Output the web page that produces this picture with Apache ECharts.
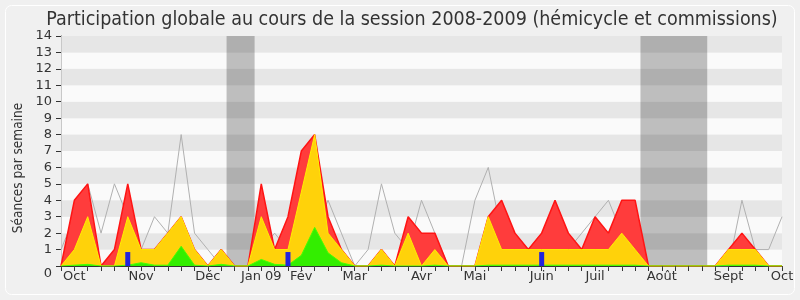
<!DOCTYPE html>
<html><head><meta charset="utf-8">
<script src="https://cdn.jsdelivr.net/npm/echarts@6/dist/echarts.min.js"></script>
<style>html,body{margin:0;padding:0;background:#f0f0f0}#c{width:800px;height:300px}</style>
</head><body><div id="c"></div>
<script>
// Weekly data, session 2008-2009 (week index 0..54)
const totalSeances = [0,4,5,0,1,5,1,1,2,3,1,0,1,0,0,5,1,3,7,8,3,1,0,0,1,0,3,2,2,0,0,0,3,4,2,1,2,4,2,1,3,2,4,4,0,0,0,0,0,0,1,2,1,0,0];
const commission   = [0,1,3,0,0,3,1,1,2,3,1,0,1,0,0,3,1,1,4.5,8,2,1,0,0,1,0,2,0,1,0,0,0,3,1,1,1,1,1,1,1,1,1,2,1,0,0,0,0,0,0,1,1,1,0,0];
const hemicycle    = [0,0.05,0.1,0,0,0.05,0.2,0.05,0.05,1.2,0.05,0,0.1,0,0,0.4,0.1,0.05,0.65,2.35,0.8,0.2,0,0,0.05,0,0,0,0.05,0,0,0,0.05,0.05,0.05,0.05,0.05,0.05,0.05,0.05,0.05,0.05,0.05,0.05,0,0,0,0,0,0,0.05,0.05,0.05,0,0];
const mediane      = [1,3,5,2,5,3,1,3,2,8,2,1,0,0,0,1,2,1,3,2,4,2,0,1,5,2,1,4,2,0,0,4,6,2,2,1,2,3,1,2,3,4,2,1,0,0,0,0,0,0,0,4,1,1,3];
const questionWeeks = [5,17,36];
const questionValues = [0.85,0.85,0.85];
const vacations = [[12.4,14.5],[43.4,48.4]];
const monthLabels = ['Oct','Nov','Déc','Jan 09','Fév','Mar','Avr','Mai','Juin','Juil','Août','Sept','Oct'];
const monthWeeks  = [1,6,11,15,18,22,27,31,36,40,45,50,54];

const toXY = arr => arr.map((v,i)=>[i,v]);
const labelMap = {};
monthWeeks.forEach((w,k)=>{labelMap[w]=monthLabels[k];});

const chart = echarts.init(document.getElementById('c'), null, {renderer:'canvas'});
const FONT = 'DejaVu Sans';
chart.setOption({
  animation:false,
  backgroundColor:'#f0f0f0',
  title:{text:'Participation globale au cours de la session 2008-2009 (hémicycle et commissions)',
    left:407, top:5, textAlign:'center',
    textStyle:{fontFamily:'DejaVu Sans Condensed', fontSize:19.5, fontWeight:'normal', color:'#333'}},
  graphic:[
    {type:'rect', shape:{x:5.5,y:5.5,width:789,height:289,r:6}, style:{fill:null, stroke:'#ffffff', lineWidth:1}, z:-10},
    {type:'text', x:18, y:168, rotation:Math.PI/2, style:{text:'Séances par semaine', fontFamily:'DejaVu Sans Condensed', fontSize:13.5, fill:'#333', textAlign:'center', textVerticalAlign:'middle'}}
  ],
  grid:{left:61, right:18, top:36, bottom:34},
  xAxis:[{
    type:'value', min:0, max:54, interval:1,
    axisLine:{show:true, onZero:false, lineStyle:{color:'#333', width:1}},
    axisTick:{show:true, length:5, lineStyle:{color:'#333'}},
    axisLabel:{show:true, margin:4, fontFamily:FONT, fontSize:13, color:'#333', showMaxLabel:true, showMinLabel:true,
      formatter:v=>labelMap[v]||''},
    splitLine:{show:false}
  },{
    type:'value', position:'top', min:0, max:54, interval:1,
    axisLine:{show:false}, axisTick:{show:true, inside:true, length:2, lineStyle:{color:'#444'}},
    axisLabel:{show:false}, splitLine:{show:false}, z:10
  }],
  yAxis:[{
    type:'value', min:0, max:14, interval:1,
    axisLine:{show:true, lineStyle:{color:'#333'}},
    axisTick:{show:true, length:5, lineStyle:{color:'#333'}},
    axisLabel:{margin:9, fontFamily:FONT, fontSize:13, color:'#333',
      formatter:v=> v===0 ? '{low|0}' : String(v),
      rich:{low:{fontFamily:FONT, fontSize:13, color:'#333', padding:[16,0,0,0]}}},
    splitLine:{show:false},
    splitArea:{show:true, areaStyle:{color:['#fafafa','#e6e6e6']}}
  },{
    type:'value', position:'right', min:0, max:14, interval:1,
    axisLine:{show:true, lineStyle:{color:'#c8c8c8'}}, axisTick:{show:false}, axisLabel:{show:false}, splitLine:{show:false}
  }],
  series:[
    {type:'line', data:[], silent:true, z:1, markArea:{silent:true, itemStyle:{color:'rgba(0,0,0,0.24)'},
      data:vacations.map(v=>[{xAxis:v[0]},{xAxis:v[1]}])}},
    {name:'médiane', type:'line', z:2, data:toXY(mediane), symbol:'none', lineStyle:{color:'#b0b0b0', width:1}},
    {name:'total', type:'line', z:3, data:toXY(totalSeances), symbol:'none', lineStyle:{color:'#ff1414', width:1.5}, areaStyle:{color:'#ff3c3c', opacity:1}},
    {name:'commission', type:'line', z:4, data:toXY(commission), symbol:'none', lineStyle:{color:'#ffee00', width:1}, areaStyle:{color:'#ffd20a', opacity:1}},
    {name:'hémicycle', type:'line', z:5, data:toXY(hemicycle), symbol:'none', lineStyle:{color:'#44ff00', width:1}, areaStyle:{color:'#33ee00', opacity:1}},
    {name:'questions', type:'bar', z:6, data:questionWeeks.map((w,k)=>[w,questionValues[k]]), barWidth:5, itemStyle:{color:'#2323dd'}}
  ]
});
</script></body></html>
